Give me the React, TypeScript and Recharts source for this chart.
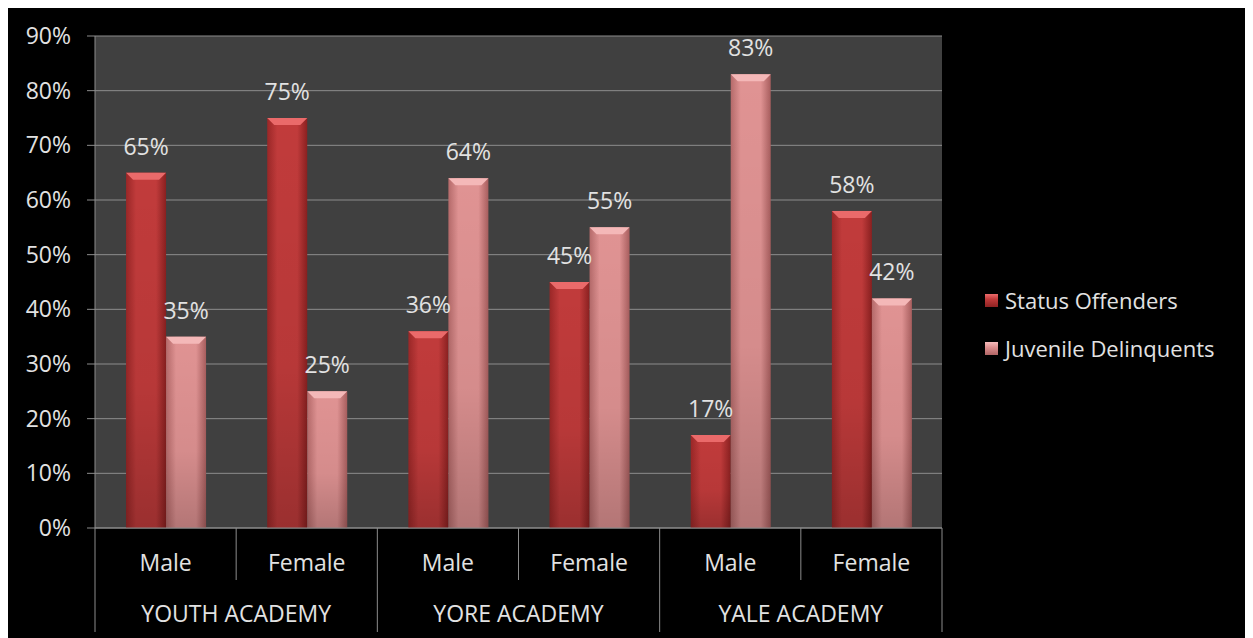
import { BarChart, Bar, XAxis, YAxis, CartesianGrid, Legend, LabelList } from 'recharts';

const SUBS = ['Male', 'Female', 'Male', 'Female', 'Male', 'Female'];
const GROUPS = ['YOUTH ACADEMY', 'YOUTH ACADEMY', 'YORE ACADEMY', 'YORE ACADEMY', 'YALE ACADEMY', 'YALE ACADEMY'];
const STATUS = [65, 75, 36, 45, 17, 58];
const JUVENILE = [35, 25, 64, 55, 83, 42];
const Y_TICKS = [0, 10, 20, 30, 40, 50, 60, 70, 80, 90];

const data = SUBS.map((sub, i) => ({
  key: `${GROUPS[i]}-${sub}`,
  sub,
  group: GROUPS[i],
  status: STATUS[i],
  juvenile: JUVENILE[i],
}));

const W = 1245;
const H = 630;
const LEGEND_W = 268;
const PLOT_RIGHT = 311; // space right of the plot, legend included
const M = { top: 28, right: PLOT_RIGHT - LEGEND_W, bottom: 0, left: 0 };
const Y_W = 87;
const X_H = 110;
const BAND = (W - PLOT_RIGHT - Y_W) / SUBS.length;
const FONT = '"Open Sans", "Noto Sans", sans-serif';
const FS = 23;
const TEXT = '#e2e2e2';
const LINE = '#8c8c8c';

function BevelBar(props: any) {
  const { x, y, width, height, kind } = props;
  if (!height || height <= 0) return null;
  const b = Math.min(7, height / 2);
  const top = kind === 'red' ? '#ea6a6a' : '#f4b8b8';
  return (
    <g>
      <rect x={x} y={y} width={width} height={height} fill={`url(#h-${kind})`} />
      <rect x={x} y={y} width={width} height={height} fill="url(#v-shade)" />
      <polygon
        points={`${x},${y} ${x + width},${y} ${x + width - 7},${y + b} ${x + 7},${y + b}`}
        fill={top}
      />
    </g>
  );
}

function SubTick(props: any) {
  const { x, y, payload, index } = props;
  const left = x - BAND / 2;
  const right = x + BAND / 2;
  const groupEdge = index % 2 === 0;
  const [group, sub] = String(payload.value).split('-');
  return (
    <g>
      <line x1={left} y1={y} x2={left} y2={y + (groupEdge ? 104 : 52)} stroke={LINE} strokeWidth={1} />
      {index === SUBS.length - 1 && (
        <line x1={right} y1={y} x2={right} y2={y + 104} stroke={LINE} strokeWidth={1} />
      )}
      <text x={x} y={y + 43} textAnchor="middle" fill={TEXT} fontSize={FS} fontFamily={FONT}>
        {sub}
      </text>
      {groupEdge && (
        <text x={right} y={y + 94} textAnchor="middle" fill={TEXT} fontSize={FS} fontFamily={FONT}>
          {group}
        </text>
      )}
    </g>
  );
}

function LegendBox() {
  const items = [
    { name: 'Status Offenders', kind: 'red' },
    { name: 'Juvenile Delinquents', kind: 'pink' },
  ];
  return (
    <div style={{ fontFamily: FONT, fontSize: FS - 1, color: TEXT }}>
      {items.map((it) => (
        <div key={it.name} style={{ display: 'flex', alignItems: 'center', height: 48 }}>
          <span
            style={{
              display: 'inline-block',
              width: 13,
              height: 13,
              marginRight: 7,
              background:
                it.kind === 'red'
                  ? 'linear-gradient(180deg, #ec6b6b 0%, #c03a3a 40%, #8e2222 100%)'
                  : 'linear-gradient(180deg, #f6bcbc 0%, #de9090 40%, #b06565 100%)',
            }}
          />
          {it.name}
        </div>
      ))}
    </div>
  );
}

export default function App() {
  return (
    <div style={{ width: W, height: H, background: '#000' }}>
      <BarChart width={W} height={H} data={data} margin={M} barCategoryGap="22%" barGap={0}>
        <defs>
          <linearGradient id="h-red" x1="0" y1="0" x2="1" y2="0">
            <stop offset="0%" stopColor="#9a2727" />
            <stop offset="25%" stopColor="#c13b3b" />
            <stop offset="75%" stopColor="#c13b3b" />
            <stop offset="100%" stopColor="#8a2020" />
          </linearGradient>
          <linearGradient id="h-pink" x1="0" y1="0" x2="1" y2="0">
            <stop offset="0%" stopColor="#b56a6a" />
            <stop offset="25%" stopColor="#e09393" />
            <stop offset="75%" stopColor="#e09393" />
            <stop offset="100%" stopColor="#a85e5e" />
          </linearGradient>
          <linearGradient id="v-shade" x1="0" y1="0" x2="0" y2="1">
            <stop offset="0%" stopColor="#000" stopOpacity={0} />
            <stop offset="60%" stopColor="#000" stopOpacity={0.05} />
            <stop offset="100%" stopColor="#000" stopOpacity={0.2} />
          </linearGradient>
        </defs>
        <CartesianGrid vertical={false} stroke={LINE} fill="#404040" />
        <XAxis
          dataKey="key"
          height={X_H}
          axisLine={{ stroke: LINE }}
          tickLine={false}
          tickSize={0}
          tickMargin={0}
          interval={0}
          tick={<SubTick />}
        />
        <YAxis
          width={Y_W}
          domain={[0, 90]}
          ticks={Y_TICKS}
          tickFormatter={(v) => `${v}%`}
          axisLine={{ stroke: LINE }}
          tickLine={{ stroke: LINE }}
          tickSize={8}
          tickMargin={16}
          tick={{ fill: TEXT, fontSize: FS, fontFamily: FONT }}
        />
        <Legend
          layout="vertical"
          verticalAlign="top"
          align="right"
          wrapperStyle={{ left: 977, top: 268, width: LEGEND_W }}
          content={<LegendBox />}
        />
        <Bar
          dataKey="status"
          name="Status Offenders"
          isAnimationActive={false}
          shape={(p: any) => <BevelBar {...p} kind="red" />}
        >
          <LabelList
            dataKey="status"
            position="top"
            offset={18}
            fill={TEXT}
            fontSize={FS}
            fontFamily={FONT}
            formatter={(v: any) => `${v}%`}
          />
        </Bar>
        <Bar
          dataKey="juvenile"
          name="Juvenile Delinquents"
          isAnimationActive={false}
          shape={(p: any) => <BevelBar {...p} kind="pink" />}
        >
          <LabelList
            dataKey="juvenile"
            position="top"
            offset={18}
            fill={TEXT}
            fontSize={FS}
            fontFamily={FONT}
            formatter={(v: any) => `${v}%`}
          />
        </Bar>
      </BarChart>
    </div>
  );
}
